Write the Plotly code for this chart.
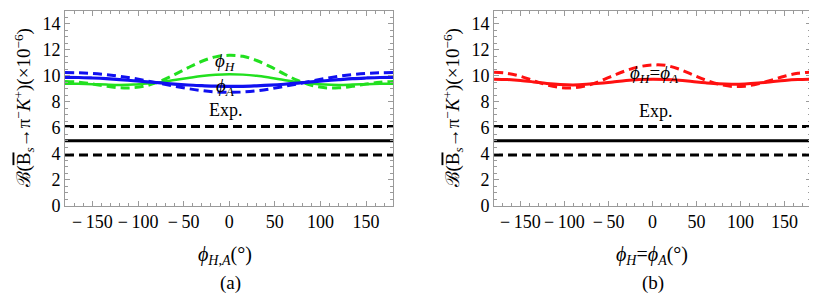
import plotly.graph_objects as go

# ---- data ----
phi = [-180, -165, -150, -135, -120, -105, -90, -75, -60, -45, -30, -15, 0,
       15, 30, 45, 60, 75, 90, 105, 120, 135, 150, 165, 180]

# panel (a)
green_dash = [9.56, 9.51, 9.37, 9.20, 9.08, 9.08, 9.25, 9.60, 10.09, 10.63, 11.12, 11.46, 11.58,
              11.50, 11.18, 10.70, 10.15, 9.64, 9.27, 9.08, 9.07, 9.19, 9.36, 9.50, 9.56]
green_solid = [9.39, 9.38, 9.35, 9.32, 9.30, 9.32, 9.40, 9.51, 9.67, 9.83, 9.98, 10.08, 10.12,
               10.09, 10.00, 9.85, 9.68, 9.52, 9.40, 9.32, 9.30, 9.32, 9.35, 9.38, 9.39]
blue_dash = [10.25, 10.23, 10.18, 10.09, 9.96, 9.80, 9.61, 9.40, 9.20, 9.01, 8.86, 8.76, 8.73,
             8.75, 8.84, 8.99, 9.18, 9.38, 9.59, 9.79, 9.96, 10.09, 10.18, 10.23, 10.25]
blue_solid = [9.88, 9.87, 9.83, 9.78, 9.71, 9.62, 9.535, 9.45, 9.36, 9.29, 9.24, 9.20, 9.19,
              9.19, 9.23, 9.28, 9.35, 9.44, 9.53, 9.62, 9.70, 9.78, 9.83, 9.87, 9.88]

# panel (b)
red_dash = [10.28, 10.19, 9.96, 9.62, 9.30, 9.10, 9.07, 9.24, 9.58, 10.00, 10.40, 10.70, 10.83,
            10.80, 10.52, 10.10, 9.68, 9.36, 9.18, 9.20, 9.38, 9.66, 9.97, 10.19, 10.28]
red_solid = [9.74, 9.71, 9.64, 9.53, 9.41, 9.33, 9.30, 9.34, 9.42, 9.53, 9.64, 9.71, 9.74,
             9.72, 9.66, 9.56, 9.46, 9.38, 9.35, 9.37, 9.44, 9.54, 9.64, 9.71, 9.74]

exp_central = 5.0
exp_upper = 6.1
exp_lower = 3.9

x_ticks = [-150, -100, -50, 0, 50, 100, 150]
x_ticktext = ["\u2212\u2009150", "\u2212\u2009100", "\u2212\u200950", "0", "50", "100", "150"]
y_ticks = [0, 2, 4, 6, 8, 10, 12, 14]
y_ticktext = ["0", "2", "4", "6", "8", "10", "12", "14"]

FONT = "Liberation Serif, Times New Roman, serif"
GRAY = "#9a9a9a"
DASH = "9px,5px"

fig = go.Figure()

def add(x, y, color, dash, xa, ya, width=3):
    fig.add_trace(go.Scatter(x=x, y=y, mode="lines", xaxis=xa, yaxis=ya,
                             line=dict(color=color, width=width, dash=dash, shape="spline", smoothing=1.0),
                             showlegend=False, hoverinfo="skip"))

# panel (a)
add(phi, green_dash, "#22e01f", DASH, "x", "y")
add(phi, green_solid, "#22e01f", "solid", "x", "y", 2.5)
add(phi, blue_dash, "#1010f0", DASH, "x", "y")
add(phi, blue_solid, "#1010f0", "solid", "x", "y", 3.2)
for val, d in [(exp_upper, DASH), (exp_central, "solid"), (exp_lower, DASH)]:
    add([phi[0], phi[-1]], [val, val], "black", d, "x", "y")

# panel (b)
add(phi, red_dash, "#ff1010", DASH, "x2", "y2")
add(phi, red_solid, "#ff1010", "solid", "x2", "y2")
for val, d in [(exp_upper, DASH), (exp_central, "solid"), (exp_lower, DASH)]:
    add([phi[0], phi[-1]], [val, val], "black", d, "x2", "y2")

TICKFONT = dict(family=FONT, size=18, color="black")

def xaxis(domain, anchor):
    return dict(domain=domain, anchor=anchor, range=[-180, 180], tickmode="array",
                tickvals=x_ticks, ticktext=x_ticktext, ticks="inside", ticklen=5, tickwidth=1,
                tickcolor=GRAY, showline=True, linecolor=GRAY, linewidth=1, mirror="ticks",
                showgrid=False, zeroline=False, tickfont=TICKFONT,
                minor=dict(dtick=10, tick0=0, ticks="inside", ticklen=3, tickcolor=GRAY, showgrid=False))

def yaxis(domain, anchor):
    return dict(domain=domain, anchor=anchor, range=[0, 15], tickmode="array",
                tickvals=y_ticks, ticktext=y_ticktext, ticks="inside", ticklen=5, tickwidth=1,
                tickcolor=GRAY, showline=True, linecolor=GRAY, linewidth=1, mirror="ticks",
                showgrid=False, zeroline=False, tickfont=TICKFONT,
                minor=dict(dtick=0.5, tick0=0, ticks="inside", ticklen=3, tickcolor=GRAY, showgrid=False))

ydom = [0.3068, 0.9898]
fig.update_layout(
    width=817, height=295, margin=dict(l=0, r=0, t=0, b=0),
    paper_bgcolor="white", plot_bgcolor="white",
    xaxis=xaxis([0.0698, 0.4718], "y"),
    yaxis=yaxis(ydom, "x"),
    xaxis2=xaxis([0.5949, 0.9829], "y2"),
    yaxis2=yaxis(ydom, "x2"),
    font=dict(family=FONT, color="black", size=18),
)

ytitle = ("ℬ(<span style='text-decoration:overline'>B</span><sub><i>s</i></sub>→π<sup>−</sup>"
          "<i>K</i><sup>+</sup>)(×10<sup>−6</sup>)")

def paper_ann(x, y, text, size, angle=0):
    return dict(x=x / 817, y=1 - y / 295, xref="paper", yref="paper", text=text, textangle=angle,
                xanchor="center", yanchor="middle", showarrow=False, font=dict(size=size))

def data_ann(x, y, xr, yr, text, size):
    return dict(x=x, y=y, xref=xr, yref=yr, text=text, xanchor="center", yanchor="middle",
                showarrow=False, font=dict(size=size))

ann = [
    paper_ann(16, 104, ytitle, 19, -90),
    paper_ann(445, 104, ytitle, 19, -90),
    paper_ann(217, 256, "<i>ϕ</i><sub><i>H</i>,<i>A</i></sub>(°)", 20),
    paper_ann(644, 256, "<i>ϕ</i><sub><i>H</i></sub>=<i>ϕ</i><sub><i>A</i></sub>(°)", 20),
    paper_ann(222, 285, "(a)", 19),
    paper_ann(645, 285, "(b)", 19),
    data_ann(-4, 11.1, "x", "y", "<i>ϕ</i><sub><i>H</i></sub>", 19),
    data_ann(-4, 9.1, "x", "y", "<i>ϕ</i><sub><i>A</i></sub>", 19),
    data_ann(-4, 7.35, "x", "y", "Exp.", 18),
    data_ann(2, 10.1, "x2", "y2", "<i>ϕ</i><sub><i>H</i></sub>=<i>ϕ</i><sub><i>A</i></sub>", 19),
    data_ann(4, 7.25, "x2", "y2", "Exp.", 18),
]
fig.update_layout(annotations=ann)

fig.write_html("out.html")
